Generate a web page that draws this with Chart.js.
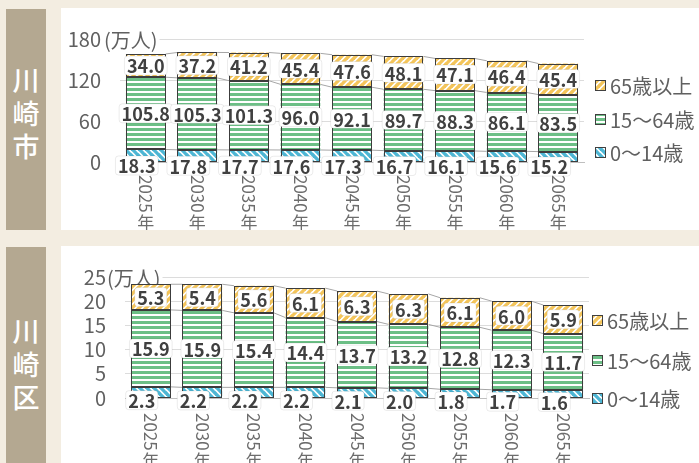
<!DOCTYPE html>
<html lang="ja">
<head>
<meta charset="utf-8">
<title>川崎市・川崎区 年齢3区分別人口の推計</title>
<script src="https://cdn.jsdelivr.net/npm/chart.js@4.4.1/dist/chart.umd.min.js"></script>
<style>
  html, body { margin: 0; padding: 0; }
  body {
    width: 699px; height: 463px; position: relative; overflow: hidden;
    background: #f3ede1;
    font-family: "Noto Sans CJK JP", sans-serif;
  }
  .tag {
    position: absolute; left: 6px; width: 40px; box-sizing: border-box;
    background: #b4a891; color: #fff;
    font-size: 27px; line-height: 33px; text-align: center; font-weight: 500;
  }
  .panel { position: absolute; left: 61px; width: 638px; background: #fff; }
  canvas { display: block; }
</style>
</head>
<body>
  <div class="tag" style="top:9px;height:221px;padding-top:54px;">川<br>崎<br>市</div>
  <div class="panel" style="top:8px;height:222px;"><canvas id="cityChart" width="638" height="222"></canvas></div>

  <div class="tag" style="top:247px;height:216px;padding-top:67px;">川<br>崎<br>区</div>
  <div class="panel" style="top:246px;height:217px;"><canvas id="wardChart" width="638" height="217"></canvas></div>

<script>
// --- data (万人) ---
const years = ['2025年', '2030年', '2035年', '2040年', '2045年', '2050年', '2055年', '2060年', '2065年'];
const seriesNames = ['0～14歳', '15～64歳', '65歳以上'];
const unitLabel = '(万人)';

// 川崎市
const cityChildren = [18.3, 17.8, 17.7, 17.6, 17.3, 16.7, 16.1, 15.6, 15.2];
const cityWorking = [105.8, 105.3, 101.3, 96.0, 92.1, 89.7, 88.3, 86.1, 83.5];
const cityAged = [34.0, 37.2, 41.2, 45.4, 47.6, 48.1, 47.1, 46.4, 45.4];
const cityTicks = [0, 60, 120, 180];

// 川崎区
const wardChildren = [2.3, 2.2, 2.2, 2.2, 2.1, 2.0, 1.8, 1.7, 1.6];
const wardWorking = [15.9, 15.9, 15.4, 14.4, 13.7, 13.2, 12.8, 12.3, 11.7];
const wardAged = [5.3, 5.4, 5.6, 6.1, 6.3, 6.3, 6.1, 6.0, 5.9];
const wardTicks = [0, 5, 10, 15, 20, 25];

const FONT = '"Noto Sans CJK JP", sans-serif';
Chart.defaults.font.family = FONT;

// striped fills like the Excel pattern fills
function makePattern(kind, color) {
  const s = kind === 'h' ? 5 : 7;
  const c = document.createElement('canvas');
  c.width = s; c.height = s;
  const g = c.getContext('2d');
  g.fillStyle = '#fff';
  g.fillRect(0, 0, s, s);
  g.fillStyle = color;
  g.strokeStyle = color;
  if (kind === 'h') {
    g.fillRect(0, 0, s, 3);
  } else {
    g.lineWidth = 3.3;
    const lines = kind === '/'
      ? [[-1, s + 1, s + 1, -1], [-1, 1, 1, -1], [s - 1, s + 1, s + 1, s - 1]]
      : [[-1, -1, s + 1, s + 1], [s - 1, -1, s + 1, 1], [-1, s - 1, 1, s + 1]];
    lines.forEach(l => {
      g.beginPath(); g.moveTo(l[0], l[1]); g.lineTo(l[2], l[3]); g.stroke();
    });
  }
  return g.createPattern(c, 'repeat');
}

const fills = [
  makePattern('\\', '#4db6d4'),
  makePattern('h', '#6cbf86'),
  makePattern('/', '#f4c55a')
];

// series lines, bar outlines, data labels, vertical year labels, unit and legend
const decorPlugin = {
  id: 'decor',
  beforeDatasetsDraw(chart, args, opts) {
    const ctx = chart.ctx;
    ctx.save();
    // unit label next to the top tick
    const ys = chart.scales.y;
    const yTop = ys.getPixelForValue(ys.max);
    ctx.font = '20px ' + FONT;
    const ux = chart.chartArea.left + opts.unitDx;
    const uw = ctx.measureText(unitLabel).width;
    ctx.fillStyle = '#fff';
    ctx.fillRect(ux, yTop - 10, uw + 2, 20);
    ctx.fillStyle = '#606060';
    ctx.textAlign = 'left';
    ctx.textBaseline = 'middle';
    ctx.fillText(unitLabel, ux, yTop + 1);

    // series lines between bar tops
    ctx.strokeStyle = '#a6a6a6';
    ctx.lineWidth = 1;
    chart.data.datasets.forEach((ds, d) => {
      const bars = chart.getDatasetMeta(d).data;
      for (let i = 0; i < bars.length - 1; i++) {
        const a = bars[i], b = bars[i + 1];
        ctx.beginPath();
        ctx.moveTo(a.x + a.width / 2, a.y);
        ctx.lineTo(b.x - b.width / 2, b.y);
        ctx.stroke();
      }
    });
    ctx.restore();
  },
  afterDatasetsDraw(chart, args, opts) {
    const ctx = chart.ctx;
    ctx.save();
    // dark outline round every segment
    ctx.strokeStyle = '#3c3c3c';
    ctx.lineWidth = 1;
    chart.data.datasets.forEach((ds, d) => {
      chart.getDatasetMeta(d).data.forEach(bar => {
        const l = Math.round(bar.x - bar.width / 2) + 0.5;
        const r = Math.round(bar.x + bar.width / 2) - 0.5;
        const t = Math.round(bar.y) + 0.5;
        const b = Math.round(bar.base) - 0.5;
        ctx.strokeRect(l, t, r - l, b - t);
      });
    });

    ctx.font = 'bold 18px ' + FONT;
    ctx.textAlign = 'center';
    ctx.textBaseline = 'middle';
    chart.data.datasets.forEach((ds, d) => {
      chart.getDatasetMeta(d).data.forEach((bar, i) => {
        const text = ds.data[i].toFixed(1);
        let x = bar.x, y = (bar.y + bar.base) / 2;
        if (d === 0) { x += opts.lowShift[0]; y += opts.lowShift[1]; }
        const w = ctx.measureText(text).width + 5, h = 19;
        ctx.beginPath();
        ctx.roundRect(x - w / 2, y - h / 2, w, h, 3);
        ctx.fillStyle = '#fff';
        ctx.fill();
        ctx.strokeStyle = 'rgba(0,0,0,0.08)';
        ctx.stroke();
        ctx.fillStyle = '#404040';
        ctx.fillText(text, x, y + 1);
      });
    });
    ctx.restore();
  },
  afterDraw(chart, args, opts) {
    const ctx = chart.ctx;
    const xs = chart.scales.x;
    ctx.save();

    // year labels written vertically: digits turned, 年 upright
    ctx.font = '17px ' + FONT;
    ctx.fillStyle = '#6c6c6c';
    const top = chart.chartArea.bottom + opts.yearGap;
    chart.data.labels.forEach((lab, i) => {
      const x = xs.getPixelForValue(i);
      const digits = lab.slice(0, -1), kanji = lab.slice(-1);
      ctx.save();
      ctx.translate(x, top);
      ctx.rotate(Math.PI / 2);
      ctx.textAlign = 'left';
      ctx.textBaseline = 'middle';
      ctx.fillText(digits, 0, 0);
      ctx.restore();
      const w = ctx.measureText(digits).width;
      ctx.textAlign = 'center';
      ctx.textBaseline = 'top';
      ctx.fillText(kanji, x, top + w + 1);
    });

    // legend, top item is the last series
    ctx.font = '20px ' + FONT;
    ctx.textAlign = 'left';
    ctx.textBaseline = 'middle';
    const order = [2, 1, 0];
    order.forEach((d, k) => {
      const ly = Math.round(opts.legendY[k]);
      ctx.fillStyle = fills[d];
      ctx.fillRect(opts.legendX, ly - 5, 11, 11);
      ctx.strokeStyle = '#404040';
      ctx.lineWidth = 1;
      ctx.strokeRect(opts.legendX + 0.5, ly - 4.5, 10, 10);
      ctx.fillStyle = '#606060';
      ctx.fillText(chart.data.datasets[d].label, opts.legendX + 15, ly + 1);
    });
    ctx.restore();
  }
};

function makeChart(canvasId, series, ticks, lay) {
  return new Chart(document.getElementById(canvasId), {
    type: 'bar',
    data: {
      labels: years,
      datasets: series.map((values, d) => ({
        label: seriesNames[d],
        data: values,
        backgroundColor: fills[d],
        borderWidth: 0,
        barPercentage: 0.77,
        categoryPercentage: 1.0
      }))
    },
    options: {
      responsive: false,
      animation: false,
      layout: { padding: { top: lay.top, right: lay.right, left: 0, bottom: 0 } },
      plugins: {
        legend: { display: false },
        tooltip: { enabled: false },
        decor: lay.decor
      },
      scales: {
        x: {
          stacked: true,
          grid: { display: false },
          border: { color: '#bfbfbf' },
          ticks: { display: false },
          afterFit: s => { s.height = lay.xHeight; }
        },
        y: {
          stacked: true,
          min: ticks[0],
          max: ticks[ticks.length - 1],
          afterBuildTicks: s => { s.ticks = ticks.map(v => ({ value: v })); },
          grid: { color: '#dcdcdc', drawTicks: false },
          border: { display: false },
          ticks: { autoSkip: false, padding: 19, color: '#606060', font: { size: 20 } },
          afterFit: s => { s.width = lay.yWidth; }
        }
      }
    },
    plugins: [decorPlugin]
  });
}

makeChart('cityChart', [cityChildren, cityWorking, cityAged], cityTicks, {
  top: 20, right: 115, xHeight: 68, yWidth: 59,
  decor: { unitDx: -16, lowShift: [-9, 10], yearGap: 13, legendX: 534, legendY: [76.5, 111, 144] }
});

makeChart('wardChart', [wardChildren, wardWorking, wardAged], wardTicks, {
  top: 24, right: 110, xHeight: 65, yWidth: 64,
  decor: { unitDx: -18, lowShift: [-9, 8], yearGap: 15, legendX: 531, legendY: [74, 113.5, 151.5] }
});
</script>
</body>
</html>
